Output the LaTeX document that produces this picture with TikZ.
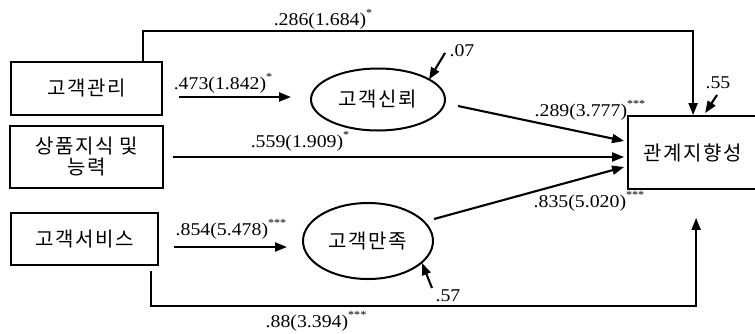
\documentclass[tikz,border=0pt]{standalone}
\usepackage{fontspec}
\setmainfont[FakeStretch=1.1]{Liberation Serif}
\newfontfamily\kr[LetterSpace=8]{Noto Sans CJK KR}
\usetikzlibrary{arrows.meta,calc,shapes.geometric}
\newcommand\sig[1]{\raisebox{0.48em}{\fontsize{11}{11}\selectfont #1}}
\tikzset{
  boxnode/.style={draw, line width=1.8pt, rectangle, inner sep=0pt, align=center,
    font=\kr\fontsize{20}{21}\selectfont},
  ellnode/.style={draw, ellipse, line width=2pt, inner sep=0pt,
    font=\kr\fontsize{20}{21}\selectfont},
  arr/.style={line width=2.1pt, -{Triangle[length=12pt,width=9pt]}},
  lbl/.style={inner sep=0pt, anchor=base, font=\fontsize{18}{20}\selectfont},
}
\begin{document}
\begin{tikzpicture}[x=1pt,y=-1pt]
\useasboundingbox (0,0) rectangle (755,333);
% boxes
\node[boxnode, minimum width=151pt, minimum height=53pt] (gm) at (86.5,88.5) {고객관리};
\node[boxnode, minimum width=153pt, minimum height=62pt] (sp) at (86.5,157) {상품지식 및\\능력};
\node[boxnode, minimum width=147pt, minimum height=52pt] (gs) at (84.5,239) {고객서비스};
\node[ellnode, minimum width=134pt, minimum height=62pt] (trust) at (378,99.5) {고객신뢰};
\node[ellnode, minimum width=130pt, minimum height=76pt] (sat) at (368,241) {고객만족};
\node[boxnode, minimum width=130pt, minimum height=73pt] (rel) at (693,152.5) {관계지향성};
% connectors
\draw[arr] ($(gm.north west)+(133,0)$) -- ++(0,-30) -| ($(rel.north west)+(66,0)$);
\draw[arr] ($(gm.east)+(16,8.5)$) -- ($(trust.west)+(-19,-2.5)$);
\draw[arr] ($(sp.east)+(9,0)$) -- ($(sp.east -| rel.west)+(-3,0)$);
\draw[arr] ($(trust.east)+(12,6.5)$) -- ($(rel.west)+(-3,-11.5)$);
\draw[arr] ($(sat.east)+(0,-22)$) -- ($(rel.west)+(-3,14.5)$);
\draw[arr] ($(gs.east)+(15,8)$) -- ($(sat.west)+(-15,6)$);
\draw[arr] ($(gs.south east)+(-8,5)$) -- ++(0,35) -| ($(rel.south west)+(69,28)$);
% error terms
\node[lbl] (e07) at (462,56) {.07};
\node[lbl] (e55) at (718,88) {.55};
\node[lbl] (e57) at (448,301) {.57};
\coordinate (s07) at (445,53);
\coordinate (s55) at (717,95);
\coordinate (s57) at (432,288);
\draw[arr] (s07) -- ($(trust.center)+(51,-20)$);
\draw[arr] (s55) -- ($(rel.north west)+(78,-2)$);
\draw[arr] (s57) -- ($(sat.center)+(54,22)$);
% path labels
\node[lbl] (l286) at (323,25) {.286(1.684)\sig{*}};
\node[lbl] (l473) at (223,89) {.473(1.842)\sig{*}};
\node[lbl] (l559) at (300,147) {.559(1.909)\sig{*}};
\node[lbl] (l289) at (590,116) {.289(3.777)\sig{***}};
\node[lbl] (l835) at (589,207) {.835(5.020)\sig{***}};
\node[lbl] (l854) at (231,235) {.854(5.478)\sig{***}};
\node[lbl] (l88) at (316,327) {.88(3.394)\sig{***}};
\end{tikzpicture}
\end{document}
